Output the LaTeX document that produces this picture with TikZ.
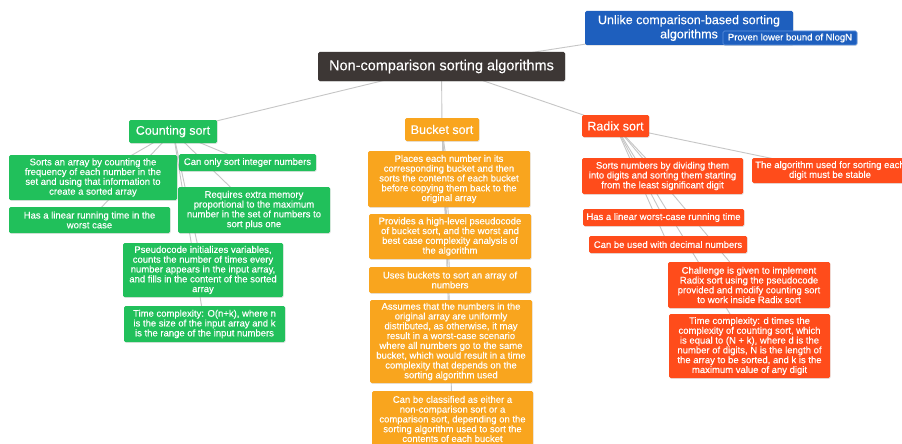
\documentclass[tikz,border=0pt]{standalone}
\usepackage{fontspec}
\setmainfont{Liberation Sans}[FakeBold=0.25,AutoFakeBold=0.25]
\usetikzlibrary{shadows,backgrounds}
\definecolor{cblue}{HTML}{1E5FBE}
\definecolor{cbluel}{HTML}{5E92DE}
\definecolor{cdark}{HTML}{3D3735}
\definecolor{cgreen}{HTML}{21C05B}
\definecolor{corange}{HTML}{F9A51E}
\definecolor{cred}{HTML}{FF4C1B}
\definecolor{lineg}{HTML}{C6C6C6}
\begin{document}
\begin{tikzpicture}[x=1pt,y=-1pt,
  box/.style={rectangle, rounded corners=1.5pt, inner sep=0pt, align=center, text=white,
    drop shadow={shadow xshift=0.7pt, shadow yshift=-0.9pt, opacity=0.2}},
  body/.style={box, font=\fontsize{9.5}{9.8}\selectfont},
  titlebox/.style={box, font=\fontsize{12.5}{14.5}\selectfont},
  conn/.style={draw=lineg, line width=0.9pt},
]
\useasboundingbox (0,0) rectangle (902,444);
\clip (0,0) rectangle (902,444);

% root and floating topic
\node[box, fill=cdark, font=\fontsize{14.5}{16}\selectfont, minimum width=247pt, minimum height=29pt] (root) at (441.5,66.5) {Non-comparison sorting algorithms};
\node[titlebox, fill=cblue, minimum width=208pt, minimum height=34pt, font=\fontsize{12.5}{14.2}\selectfont] (unlike) at (689,28) {Unlike comparison-based sorting\\algorithms};
\node[body, fill=cblue, draw=cbluel, line width=0.6pt, minimum width=134pt, minimum height=14pt] (proven) at (790,38) {Proven lower bound of NlogN};

% main branches
\node[titlebox, fill=cgreen, minimum width=88pt, minimum height=23pt] (count) at (173,131.5) {Counting sort};
\node[titlebox, fill=corange, minimum width=74pt, minimum height=23pt] (bucket) at (442,129.5) {Bucket sort};
\node[titlebox, fill=cred, minimum width=67pt, minimum height=22pt] (radix) at (615.5,126) {Radix sort};

% counting sort children
\node[body, fill=cgreen, minimum width=168pt, minimum height=45pt] (cs1) at (93,177.5) {Sorts an array by counting the\\frequency of each number in the\\set and using that information to\\create a sorted array};
\node[body, fill=cgreen, minimum width=161pt, minimum height=26pt] (cs2) at (89.5,220) {Has a linear running time in the\\worst case};
\node[body, fill=cgreen, minimum width=137pt, minimum height=17pt] (cs3) at (247.5,162.5) {Can only sort integer numbers};
\node[body, fill=cgreen, minimum width=152pt, minimum height=46pt] (cs4) at (254,210) {Requires extra memory\\proportional to the maximum\\number in the set of numbers to\\sort plus one};
\node[body, fill=cgreen, minimum width=160pt, minimum height=54pt] (cs5) at (203,270) {Pseudocode initializes variables,\\counts the number of times every\\number appears in the input array,\\and fills in the content of the sorted\\array};
\node[body, fill=cgreen, minimum width=161pt, minimum height=36pt] (cs6) at (204.5,324) {Time complexity: O(n+k), where n\\is the size of the input array and k\\is the range of the input numbers};

% bucket sort children
\node[body, fill=corange, minimum width=162pt, minimum height=56pt] (b1) at (449,179) {Places each number in its\\corresponding bucket and then\\sorts the contents of each bucket\\before copying them back to the\\original array};
\node[body, fill=corange, minimum width=162pt, minimum height=45pt] (b2) at (450,236.5) {Provides a high-level pseudocode\\of bucket sort, and the worst and\\best case complexity analysis of\\the algorithm};
\node[body, fill=corange, minimum width=162pt, minimum height=26pt] (b3) at (450,280) {Uses buckets to sort an array of\\numbers};
\node[body, fill=corange, minimum width=162pt, minimum height=83pt] (b4) at (451,341.5) {Assumes that the numbers in the\\original array are uniformly\\distributed, as otherwise, it may\\result in a worst-case scenario\\where all numbers go to the same\\bucket, which would result in a time\\complexity that depends on the\\sorting algorithm used};
\node[body, fill=corange, minimum width=161pt, minimum height=56pt] (b5) at (452.5,419) {Can be classified as either a\\non-comparison sort or a\\comparison sort, depending on the\\sorting algorithm used to sort the\\contents of each bucket};

% radix sort children
\node[body, fill=cred, minimum width=161pt, minimum height=36pt] (r1) at (662.5,176) {Sorts numbers by dividing them\\into digits and sorting them starting\\from the least significant digit};
\node[body, fill=cred, minimum width=156pt, minimum height=25pt] (r2) at (830,170.5) {The algorithm used for sorting each\\digit must be stable};
\node[body, fill=cred, minimum width=161pt, minimum height=17pt] (r3) at (663.5,217.5) {Has a linear worst-case running time};
\node[body, fill=cred, minimum width=158pt, minimum height=17pt] (r4) at (668,244.5) {Can be used with decimal numbers};
\node[body, fill=cred, minimum width=162pt, minimum height=46pt] (r5) at (749,285) {Challenge is given to implement\\Radix sort using the pseudocode\\provided and modify counting sort\\to work inside Radix sort};
\node[body, fill=cred, minimum width=161pt, minimum height=64pt] (r6) at (749.5,346) {Time complexity: d times the\\complexity of counting sort, which\\is equal to (N + k), where d is the\\number of digits, N is the length of\\the array to be sorted, and k is the\\maximum value of any digit};

\begin{scope}[on background layer]
  \fill[white] (0,0) rectangle (902,444);
  \draw[conn] (root.center) -- (unlike.center);
  \draw[conn] (root.center) -- (count.center);
  \draw[conn] (root.center) -- (bucket.center);
  \draw[conn] (root.center) -- (radix.center);
  \foreach \c in {cs1,cs2,cs3,cs4,cs5,cs6} \draw[conn] (count.center) -- (\c.center);
  \foreach \c in {b1,b2,b3,b4,b5} \draw[conn] (bucket.center) -- (\c.center);
  \foreach \c in {r1,r2,r3,r4,r5,r6} \draw[conn] (radix.center) -- (\c.center);
\end{scope}
\end{tikzpicture}
\end{document}
